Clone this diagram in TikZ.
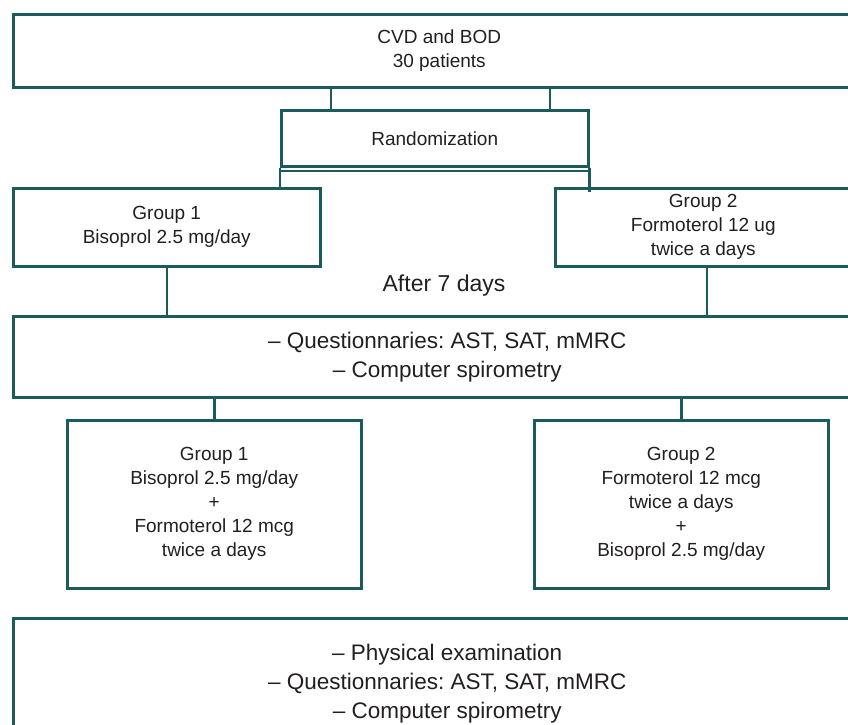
\documentclass[tikz,border=0pt]{standalone}
\usepackage{fontspec}
\setmainfont{Liberation Sans}
\usetikzlibrary{calc}
\definecolor{teal}{HTML}{1B5B5E}
\definecolor{ink}{HTML}{231F20}
\frenchspacing
\begin{document}
\begin{tikzpicture}[x=1pt,y=-1pt,
  box/.style={draw=teal, line width=2.5pt, rectangle, inner sep=0pt, anchor=north west, align=center, text=ink},
  small/.style={font=\fontsize{19}{24}\selectfont\frenchspacing},
  big/.style={font=\fontsize{22.5}{29}\selectfont\frenchspacing},
  conn/.style={draw=teal, line width=2.5pt}]
\useasboundingbox (0,0) rectangle (848,724);
\clip (0,0) rectangle (848,724);
\fill[white] (0,0) rectangle (848,724);
% boxes
\node[box, small, minimum width=852, minimum height=73] (top) at (12,13) {CVD and BOD\\30 patients};
\node[box, small, minimum width=307, minimum height=56] (rand) at (280,109) {Randomization};
\node[box, small, minimum width=307, minimum height=78] (g1) at (12,187) {Group 1\\Bisoprol 2.5 mg/day};
\node[box, small, minimum width=296, minimum height=78] (g2) at (554,187) {Group 2\\Formoterol 12 ug\\twice a days};
\node[font=\fontsize{23}{29}\selectfont, text=ink] (after) at (444,286) {After 7 days};
\node[box, big, minimum width=868, minimum height=81] (q) at (12,315) {-- Questionnaries: AST, SAT, mMRC\\-- Computer spirometry};
\node[box, small, minimum width=294, minimum height=168] (g1b) at (66,419) {Group 1\\Bisoprol 2.5 mg/day\\+\\Formoterol 12 mcg\\twice a days};
\node[box, small, minimum width=294, minimum height=168] (g2b) at (533,419) {Group 2\\Formoterol 12 mcg\\twice a days\\+\\Bisoprol 2.5 mg/day};
\node[box, big, minimum width=868, minimum height=130] (bot) at (12,617) {-- Physical examination\\-- Questionnaries: AST, SAT, mMRC\\-- Computer spirometry};
% connectors top -> randomization
\coordinate (r1) at ($(rand.north west)+(51,0)$);
\coordinate (r2) at ($(rand.north west)+(270,0)$);
\draw[conn] (r1) -- (r1 |- top.south);
\draw[conn] (r2) -- (r2 |- top.south);
% randomization -> groups
\coordinate (h1) at ($(rand.south west)+(0,3.5)$);
\coordinate (h2) at ($(rand.south east)+(0,3.5)$);
\coordinate (h2end) at ($(g2.north west)+(33,5)$);
\draw[conn] (h1) -- (h2);
\draw[conn] (rand.south west) -- (h1 |- g1.north);
\draw[conn] (rand.south east) -- (h2 |- h2end);
% groups -> questionnaire box
\draw[conn] (g1.south) -- (g1.south |- q.north);
\coordinate (g2c) at ($(g2.south west)+(153,0)$);
\draw[conn] (g2c) -- (g2c |- q.north);
% questionnaire box -> second groups
\draw[conn] (q.south -| g1b.north) -- (g1b.north);
\draw[conn] (q.south -| g2b.north) -- (g2b.north);
\end{tikzpicture}
\end{document}
